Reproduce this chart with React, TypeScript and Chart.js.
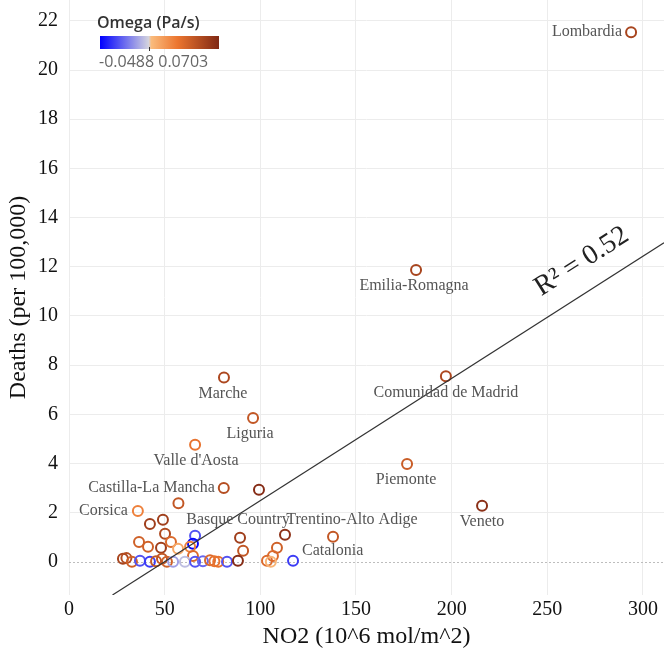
import React, { useEffect, useRef } from "react";
import { Chart, registerables } from "chart.js";

Chart.register(...registerables);

// ---------------- data ----------------
const NO2 = [
  293.8, 181.4, 197.0, 81.0, 96.2, 65.9, 176.7, 80.9, 99.3, 215.9,
  36.0, 57.2, 42.3, 49.1, 65.9, 50.2, 36.6, 41.3, 48.1, 53.3,
  57.0, 64.8, 63.3, 64.8, 89.4, 91.0, 112.9, 108.7, 106.6, 138.0,
  28.2, 30.0, 32.9, 37.1, 42.3, 48.6, 51.2, 54.4, 60.6, 65.9,
  70.0, 73.7, 76.0, 78.0, 82.6, 88.3, 103.5, 105.5, 117.1, 45.5,
];
const DEATHS = [
  21.54, 11.87, 7.55, 7.5, 5.85, 4.76, 3.98, 3.0, 2.93, 2.28,
  2.07, 2.38, 1.54, 1.71, 1.06, 1.14, 0.81, 0.61, 0.57, 0.81,
  0.53, 0.73, 0.61, 0.24, 0.98, 0.45, 1.1, 0.57, 0.24, 1.02,
  0.12, 0.15, 0.0, 0.04, 0.0, 0.12, 0.0, 0.0, 0.0, 0.0,
  0.02, 0.06, 0.02, 0.0, 0.0, 0.04, 0.04, 0.0, 0.04, 0.02,
];
const OMEGA = [
  0.055, 0.055, 0.053, 0.053, 0.045, 0.03, 0.042, 0.05, 0.068, 0.066,
  0.025, 0.045, 0.058, 0.058, -0.03, 0.052, 0.04, 0.04, 0.058, 0.035,
  0.01, -0.047, 0.025, 0.035, 0.058, 0.045, 0.065, 0.04, 0.035, 0.045,
  0.055, 0.05, 0.04, -0.03, -0.035, 0.045, 0.04, -0.012, -0.005, -0.03,
  -0.025, 0.035, 0.03, 0.03, -0.03, 0.068, 0.035, 0.005, -0.035, 0.045,
];
const REGION_NAMES = [
  "Lombardia", "Emilia-Romagna", "Comunidad de Madrid", "Marche", "Liguria",
  "Valle d'Aosta", "Piemonte", "Castilla-La Mancha", "", "Veneto",
  "Corsica", "", "", "", "", "", "", "", "", "",
  "", "", "", "", "Basque Country", "", "", "", "", "Trentino-Alto Adige",
  "", "", "", "", "", "", "", "", "", "",
  "", "", "", "", "", "", "", "", "Catalonia", "",
];
const X_TICKS = [0, 50, 100, 150, 200, 250, 300];
const Y_TICKS = [0, 2, 4, 6, 8, 10, 12, 14, 16, 18, 20, 22];
const OMEGA_MIN = -0.0488;
const OMEGA_MAX = 0.0703;
const TREND_SLOPE = 0.0497;
const TREND_INTERCEPT = -2.48;
const R_SQUARED = 0.52;

const X_TITLE = "NO2 (10^6 mol/m^2)";
const Y_TITLE = "Deaths (per 100,000)";
const LEGEND_TITLE = "Omega (Pa/s)";

// ---------------- layout / style ----------------
const X_MIN = 0;
const X_MAX = 311;
const Y_MIN = -1.35;
const Y_MAX = 22.85;

const LABEL_LAYOUT: Record<string, { dx: number; dy: number; align: CanvasTextAlign }> = {
  "Lombardia": { dx: -9, dy: 0, align: "right" },
  "Emilia-Romagna": { dx: -2, dy: 16, align: "center" },
  "Comunidad de Madrid": { dx: 0, dy: 17, align: "center" },
  "Marche": { dx: -1, dy: 16, align: "center" },
  "Liguria": { dx: -3, dy: 16, align: "center" },
  "Valle d'Aosta": { dx: 1, dy: 16, align: "center" },
  "Piemonte": { dx: -1, dy: 16, align: "center" },
  "Castilla-La Mancha": { dx: -9, dy: 0, align: "right" },
  "Veneto": { dx: 0, dy: 16, align: "center" },
  "Corsica": { dx: -10, dy: 0, align: "right" },
  "Basque Country": { dx: -2, dy: -18, align: "center" },
  "Trentino-Alto Adige": { dx: 19, dy: -17, align: "center" },
  "Catalonia": { dx: 9, dy: -10, align: "left" },
};

const COLOR_STOPS: [number, number[]][] = [
  [0, [0, 0, 255]],
  [0.41, [212, 212, 222]],
  [0.43, [250, 188, 125]],
  [0.65, [236, 118, 48]],
  [1, [128, 40, 20]],
];

function omegaColor(w: number): string {
  let t = (w - OMEGA_MIN) / (OMEGA_MAX - OMEGA_MIN);
  t = Math.max(0, Math.min(1, t));
  for (let i = 0; i < COLOR_STOPS.length - 1; i++) {
    const [t0, c0] = COLOR_STOPS[i];
    const [t1, c1] = COLOR_STOPS[i + 1];
    if (t >= t0 && t <= t1) {
      const f = (t - t0) / (t1 - t0);
      const c = c0.map((v, k) => Math.round(v + (c1[k] - v) * f));
      return `rgb(${c[0]},${c[1]},${c[2]})`;
    }
  }
  const c = COLOR_STOPS[COLOR_STOPS.length - 1][1];
  return `rgb(${c[0]},${c[1]},${c[2]})`;
}

const SERIF = "'Liberation Serif', 'Times New Roman', serif";
const SANS = "'Open Sans', 'Noto Sans', sans-serif";

const overlayPlugin = {
  id: "overlay",
  beforeDatasetsDraw(chart: any) {
    const { ctx, chartArea, scales } = chart;
    const y0 = scales.y.getPixelForValue(0);
    ctx.save();
    ctx.strokeStyle = "#bdbdbd";
    ctx.lineWidth = 1;
    ctx.setLineDash([2, 2]);
    ctx.beginPath();
    ctx.moveTo(chartArea.left, Math.round(y0) + 0.5);
    ctx.lineTo(chartArea.right, Math.round(y0) + 0.5);
    ctx.stroke();
    ctx.restore();
  },
  afterDatasetsDraw(chart: any) {
    const { ctx, scales } = chart;
    const xs = scales.x;
    const ys = scales.y;
    ctx.save();
    // point labels
    ctx.font = `16px ${SERIF}`;
    ctx.fillStyle = "#555555";
    ctx.textBaseline = "middle";
    REGION_NAMES.forEach((name, i) => {
      if (!name) return;
      const lay = LABEL_LAYOUT[name] || { dx: 0, dy: 16, align: "center" };
      const px = xs.getPixelForValue(NO2[i]);
      const py = ys.getPixelForValue(DEATHS[i]);
      ctx.textAlign = lay.align;
      ctx.fillText(name, px + lay.dx, py + lay.dy);
    });
    // R^2 label along trend line
    const xr = 276;
    const pxa = xs.getPixelForValue(xr - 20);
    const pya = ys.getPixelForValue(TREND_SLOPE * (xr - 20) + TREND_INTERCEPT);
    const pxb = xs.getPixelForValue(xr + 20);
    const pyb = ys.getPixelForValue(TREND_SLOPE * (xr + 20) + TREND_INTERCEPT);
    const ang = Math.atan2(pyb - pya, pxb - pxa);
    const pxc = xs.getPixelForValue(xr);
    const pyc = ys.getPixelForValue(TREND_SLOPE * xr + TREND_INTERCEPT);
    ctx.translate(pxc, pyc);
    ctx.rotate(ang);
    ctx.font = `28px ${SERIF}`;
    ctx.fillStyle = "#222222";
    ctx.textAlign = "center";
    ctx.textBaseline = "alphabetic";
    ctx.fillText(`R\u00B2 = ${R_SQUARED.toFixed(2)}`, 0, -21);
    ctx.restore();
  },
  afterDraw(chart: any) {
    const { ctx } = chart;
    ctx.save();
    // colour legend
    ctx.font = `600 16px ${SANS}`;
    ctx.fillStyle = "#333333";
    ctx.textAlign = "left";
    ctx.textBaseline = "middle";
    ctx.fillText(LEGEND_TITLE, 97, 23);
    const bx = 100, by = 36, bw = 119, bh = 13;
    const g = ctx.createLinearGradient(bx, 0, bx + bw, 0);
    COLOR_STOPS.forEach(([t, c]) => g.addColorStop(t, `rgb(${c[0]},${c[1]},${c[2]})`));
    ctx.fillStyle = g;
    ctx.fillRect(bx, by, bw, bh);
    const zx = bx + ((0 - OMEGA_MIN) / (OMEGA_MAX - OMEGA_MIN)) * bw;
    ctx.fillStyle = "#333333";
    ctx.fillRect(Math.round(zx), by + bh - 2, 1, 4);
    ctx.font = `16px ${SANS}`;
    ctx.fillStyle = "#666666";
    ctx.fillText(`${OMEGA_MIN} ${OMEGA_MAX}`, 99, 62);
    ctx.restore();
  },
};

export default function App() {
  const canvasRef = useRef<HTMLCanvasElement | null>(null);

  useEffect(() => {
    const canvas = canvasRef.current;
    if (!canvas) return;
    const pointColors = OMEGA.map(omegaColor);
    const points = NO2.map((x, i) => ({ x, y: DEATHS[i] }));
    const xStart = (Y_MIN - TREND_INTERCEPT) / TREND_SLOPE;
    const trend = [
      { x: xStart, y: TREND_SLOPE * xStart + TREND_INTERCEPT },
      { x: X_MAX, y: TREND_SLOPE * X_MAX + TREND_INTERCEPT },
    ];

    const chart = new Chart(canvas, {
      type: "scatter",
      data: {
        datasets: [
          {
            type: "line",
            data: trend,
            borderColor: "#333333",
            borderWidth: 1.2,
            pointRadius: 0,
            fill: false,
          } as any,
          {
            data: points,
            pointRadius: 5,
            pointHoverRadius: 5,
            pointBorderWidth: 2,
            pointBackgroundColor: "rgba(0,0,0,0)",
            pointBorderColor: pointColors,
          },
        ],
      },
      options: {
        responsive: false,
        animation: false,
        devicePixelRatio: 1,
        layout: { autoPadding: false, padding: { top: 0, right: 2, bottom: 0, left: 0 } },
        plugins: { legend: { display: false }, tooltip: { enabled: false } },
        scales: {
          x: {
            type: "linear",
            min: X_MIN,
            max: X_MAX,
            afterBuildTicks: (s: any) => {
              s.ticks = X_TICKS.map((v) => ({ value: v }));
            },
            afterFit: (s: any) => {
              s.height = 67;
              s.paddingLeft = 0;
              s.paddingRight = 0;
            },
            grid: { color: "#ececec", drawTicks: false, lineWidth: 1 },
            border: { display: false },
            ticks: {
              padding: 3,
              color: "#111111",
              font: { family: SERIF, size: 20 },
              maxRotation: 0,
              callback: (v: any) => String(v),
            },
            title: {
              display: true,
              text: X_TITLE,
              color: "#111111",
              font: { family: SERIF, size: 24 },
              padding: { top: 0, bottom: 11 },
            },
          },
          y: {
            type: "linear",
            min: Y_MIN,
            max: Y_MAX,
            afterBuildTicks: (s: any) => {
              s.ticks = Y_TICKS.map((v) => ({ value: v }));
            },
            afterFit: (s: any) => {
              s.width = 69;
              s.paddingTop = 0;
              s.paddingBottom = 0;
            },
            grid: {
              color: (ctx: any) => (ctx.tick && ctx.tick.value === 0 ? "rgba(0,0,0,0)" : "#ececec"),
              drawTicks: false,
              lineWidth: 1,
            },
            border: { display: false },
            ticks: {
              padding: 11,
              color: "#111111",
              font: { family: SERIF, size: 20 },
              callback: (v: any) => String(v),
            },
            title: {
              display: true,
              text: Y_TITLE,
              color: "#111111",
              font: { family: SERIF, size: 24 },
              padding: { top: 4, bottom: 0 },
            },
          },
        },
      },
      plugins: [overlayPlugin],
    });
    return () => chart.destroy();
  }, []);

  return (
    <div style={{ position: "fixed", left: 0, top: 0, width: 666, height: 662, background: "#ffffff" }}>
      <canvas ref={canvasRef} width={666} height={662} style={{ display: "block" }} />
    </div>
  );
}
